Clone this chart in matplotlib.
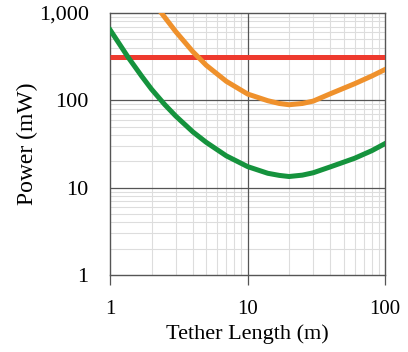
#! /usr/bin/env python
"""Power needed versus tether length, log-log."""

import matplotlib.pyplot as plt
from matplotlib.ticker import FuncFormatter, LogLocator, NullFormatter

# Values
green_len = [1, 1.35, 1.7, 2, 2.5, 3, 4, 5, 7, 10, 14, 17, 20, 25, 30, 40, 60, 80, 100]
power_green = [640, 312, 188, 134, 89, 66, 43.4, 33, 23.1, 17.4, 14.6, 13.8, 13.4, 13.9,
               14.8, 17.3, 21.7, 26.5, 32]

orange_len = [2.3, 3, 4, 5, 7, 10, 14, 17, 20, 25, 30, 40, 60, 80, 100]
power_orange = [1055, 612, 360, 252, 165, 118, 99, 92, 89, 92, 98, 119, 155, 190, 226]

red_len = [1, 100]
power_red = [310, 310]

x_ticks = [1, 10, 100]
y_ticks = [1, 10, 100, 1000]


def main():
    plt.rcParams['font.family'] = ['Liberation Serif', 'DejaVu Serif']

    fig = plt.figure(figsize=(4.08, 3.52), dpi=100)
    ax = fig.add_axes([0.27, 0.219, 0.674, 0.744])

    ax.plot(red_len, power_red, color='#ee3a2e', lw=3.6, solid_capstyle='butt', zorder=3)
    ax.plot(orange_len, power_orange, color='#ef912c', lw=3.6, zorder=4)
    ax.plot(green_len, power_green, color='#15933d', lw=3.6, zorder=5)

    ax.set_xscale('log')
    ax.set_yscale('log')
    ax.set_xlim(1, 100)
    ax.set_ylim(1, 1000)

    ax.set_xticks(x_ticks)
    ax.set_yticks(y_ticks)
    ax.xaxis.set_major_formatter(FuncFormatter(lambda v, p: f"{v:,.0f}"))
    ax.yaxis.set_major_formatter(FuncFormatter(lambda v, p: f"{v:,.0f}"))
    ax.xaxis.set_minor_locator(LogLocator(base=10, subs=range(2, 10)))
    ax.yaxis.set_minor_locator(LogLocator(base=10, subs=range(2, 10)))
    ax.xaxis.set_minor_formatter(NullFormatter())
    ax.yaxis.set_minor_formatter(NullFormatter())

    # light minor grid, darker major lines drawn on top of it
    ax.grid(which='minor', color='#dddddd', lw=0.8)
    ax.set_axisbelow(True)
    for xv in x_ticks[1:-1]:
        ax.axvline(xv, color='#555555', lw=0.9, zorder=1)
    for yv in y_ticks[1:-1]:
        ax.axhline(yv, color='#555555', lw=0.9, zorder=1)

    ax.tick_params(axis='x', which='major', length=7, width=0.9, color='#555555',
                   labelsize=15, pad=11)
    ax.tick_params(axis='y', which='major', length=0, labelsize=16, pad=15.5)
    ax.tick_params(which='minor', length=0)
    for s in ax.spines.values():
        s.set_color('#555555')
        s.set_linewidth(1.0)

    ax.set_xlabel('Tether Length (m)', fontsize=16, labelpad=4)
    ax.set_ylabel('Power (mW)', fontsize=17)
    ax.yaxis.set_label_coords(-0.262, 0.5)

    fig.savefig('out.png', dpi=100)


if __name__ == '__main__':
    main()
